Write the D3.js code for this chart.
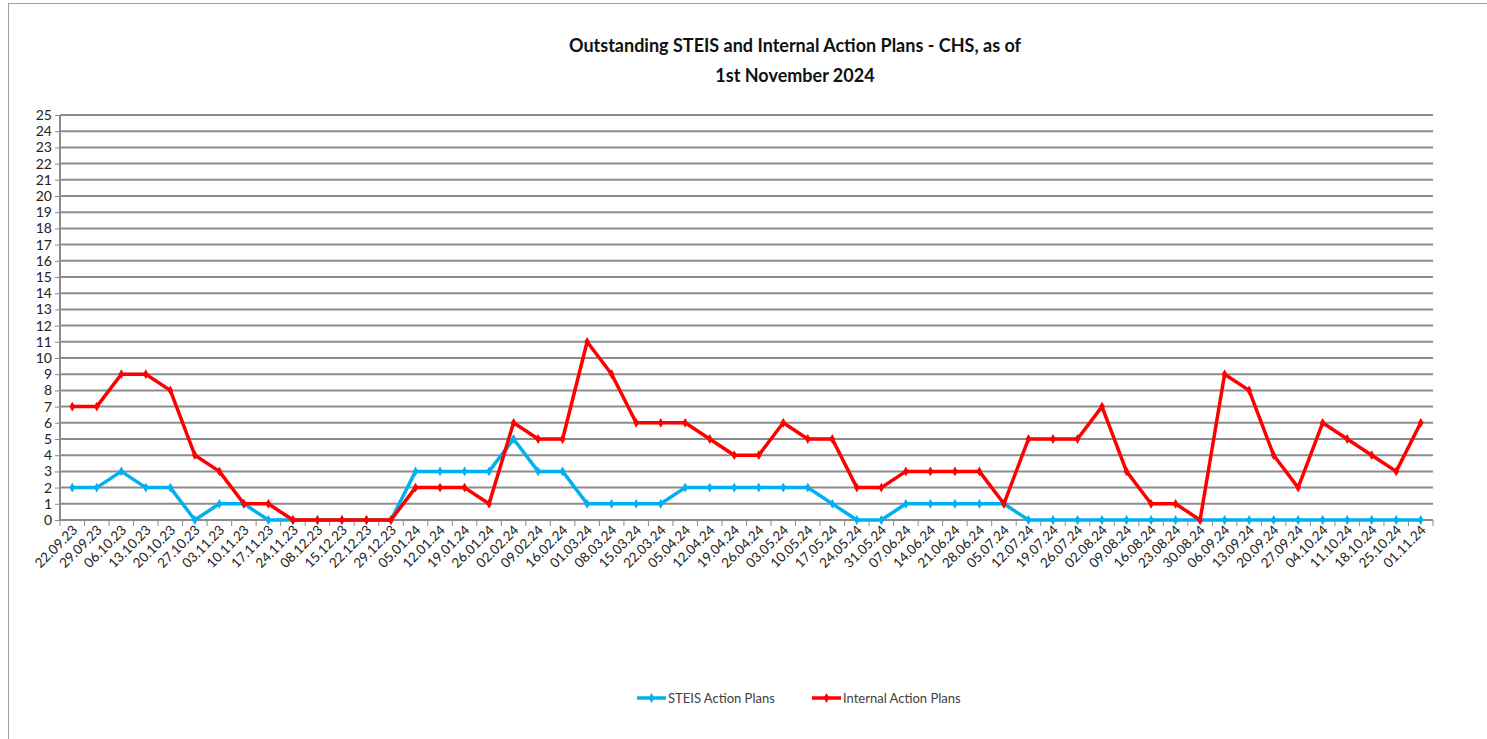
<!DOCTYPE html>
<html>
<head>
<meta charset="utf-8">
<script src="https://cdn.jsdelivr.net/npm/d3@7"></script>
<style>
  body { margin: 0; background: #fff; }
  text { font-family: Lato, "Open Sans", sans-serif; }
</style>
</head>
<body>
<svg id="drawing_region"></svg>
<script>
// dates along the x axis
var dates = ["22.09.23","29.09.23","06.10.23","13.10.23","20.10.23","27.10.23","03.11.23","10.11.23","17.11.23","24.11.23",
  "08.12.23","15.12.23","22.12.23","29.12.23","05.01.24","12.01.24","19.01.24","26.01.24","02.02.24","09.02.24",
  "16.02.24","01.03.24","08.03.24","15.03.24","22.03.24","05.04.24","12.04.24","19.04.24","26.04.24","03.05.24",
  "10.05.24","17.05.24","24.05.24","31.05.24","07.06.24","14.06.24","21.06.24","28.06.24","05.07.24","12.07.24",
  "19.07.24","26.07.24","02.08.24","09.08.24","16.08.24","23.08.24","30.08.24","06.09.24","13.09.24","20.09.24",
  "27.09.24","04.10.24","11.10.24","18.10.24","25.10.24","01.11.24"];

var steis = [2,2,3,2,2,0,1,1,0,0, 0,0,0,0,3,3,3,3,5,3, 3,1,1,1,1,2,2,2,2,2,
  2,1,0,0,1,1,1,1,1,0, 0,0,0,0,0,0,0,0,0,0, 0,0,0,0,0,0];

var internal = [7,7,9,9,8,4,3,1,1,0, 0,0,0,0,2,2,2,1,6,5, 5,11,9,6,6,6,5,4,4,6,
  5,5,2,2,3,3,3,3,1,5, 5,5,7,3,1,1,0,9,8,4, 2,6,5,4,3,6];

var yTicks = d3.range(0, 26);

var config = {
  parent: '#drawing_region',
  width: 1487,
  height: 739,
  margin: {top:115, right:54, bottom:219, left:60}
};

var series = [
  {name: "STEIS Action Plans", values: steis, color: "#00b0f0"},
  {name: "Internal Action Plans", values: internal, color: "#ff0000"}
];

var svg = d3.select(config.parent)
  .attr('width', config.width)
  .attr('height', config.height);

// outer frame
svg.append('rect')
  .attr('x', 8.5).attr('y', 3.5)
  .attr('width', config.width + 10).attr('height', config.height + 10)
  .attr('fill', 'none').attr('stroke', '#a0a0a0').attr('stroke-width', 1);

var inner_width = config.width - config.margin.left - config.margin.right;
var inner_height = config.height - config.margin.top - config.margin.bottom;

var chart = svg.append('g')
  .attr('transform', `translate(${config.margin.left}, ${config.margin.top})`);

var xscale = d3.scaleBand().domain(dates).range([0, inner_width]);
var yscale = d3.scaleLinear().domain([0, 25]).range([inner_height, 0]);

// gridlines
chart.append('g').selectAll('line')
  .data(yTicks.filter(d => d > 0))
  .join('line')
  .attr('x1', 0).attr('x2', inner_width)
  .attr('y1', d => yscale(d)).attr('y2', d => yscale(d))
  .attr('stroke', '#8c8c8c').attr('stroke-width', 2);

// y axis
var yaxis = d3.axisLeft(yscale).tickValues(yTicks).tickSize(5).tickPadding(3).tickFormat(d3.format('d'));
var yg = chart.append('g').call(yaxis);
yg.select('.domain').attr('stroke', '#8c8c8c').attr('stroke-width', 2).attr('d', `M0,${inner_height}V0`);
yg.selectAll('.tick line').attr('stroke', '#8c8c8c');
yg.selectAll('.tick text').attr('font-size', 14).attr('fill', '#222');

// x axis
var xaxis = d3.axisBottom(xscale).tickSize(0).tickPadding(0);
var xg = chart.append('g').attr('transform', `translate(0, ${inner_height})`).call(xaxis);
xg.select('.domain').attr('stroke', '#8c8c8c').attr('stroke-width', 2).attr('d', `M0,0H${inner_width}`);
xg.selectAll('.tick text')
  .attr('font-size', 13.5).attr('fill', '#222')
  .attr('text-anchor', 'end')
  .attr('dy', 0)
  .attr('transform', 'translate(6,11) rotate(-45)');
// tick marks between categories
chart.append('g').selectAll('line')
  .data(dates.concat(['end']))
  .join('line')
  .attr('x1', (d, i) => i * xscale.step()).attr('x2', (d, i) => i * xscale.step())
  .attr('y1', inner_height).attr('y2', inner_height + 6)
  .attr('stroke', '#8c8c8c').attr('stroke-width', 1);

// lines
var line = d3.line()
  .x((d, i) => xscale(dates[i]) + xscale.bandwidth() / 2)
  .y(d => yscale(d));

var diamond = d3.symbol().type(d3.symbolDiamond).size(28);

series.forEach(s => {
  chart.append('path')
    .datum(s.values)
    .attr('d', line)
    .attr('fill', 'none')
    .attr('stroke', s.color)
    .attr('stroke-width', 3.5)
    .attr('stroke-linejoin', 'round');
  chart.append('g').selectAll('path')
    .data(s.values)
    .join('path')
    .attr('d', diamond)
    .attr('transform', (d, i) => `translate(${xscale(dates[i]) + xscale.bandwidth() / 2}, ${yscale(d)})`)
    .attr('fill', s.color);
});

// title
svg.append('text')
  .attr('x', 795).attr('y', 52)
  .attr('text-anchor', 'middle')
  .attr('font-size', 18).attr('font-weight', 'bold').attr('fill', '#111')
  .text('Outstanding STEIS and Internal Action Plans - CHS, as of');
svg.append('text')
  .attr('x', 795).attr('y', 82)
  .attr('text-anchor', 'middle')
  .attr('font-size', 18).attr('font-weight', 'bold').attr('fill', '#111')
  .text('1st November 2024');

// legend
var legendX = [637, 812];
var legend = svg.append('g').selectAll('g')
  .data(series)
  .join('g')
  .attr('transform', (d, i) => `translate(${legendX[i]}, 698)`);
legend.append('line')
  .attr('x1', 0).attr('x2', 29)
  .attr('stroke', d => d.color).attr('stroke-width', 3.5);
legend.append('path')
  .attr('d', diamond)
  .attr('transform', 'translate(14.5,0)')
  .attr('fill', d => d.color);
legend.append('text')
  .attr('x', 31).attr('y', 5)
  .attr('font-size', 13).attr('fill', '#404040')
  .text(d => d.name);
</script>
</body>
</html>
